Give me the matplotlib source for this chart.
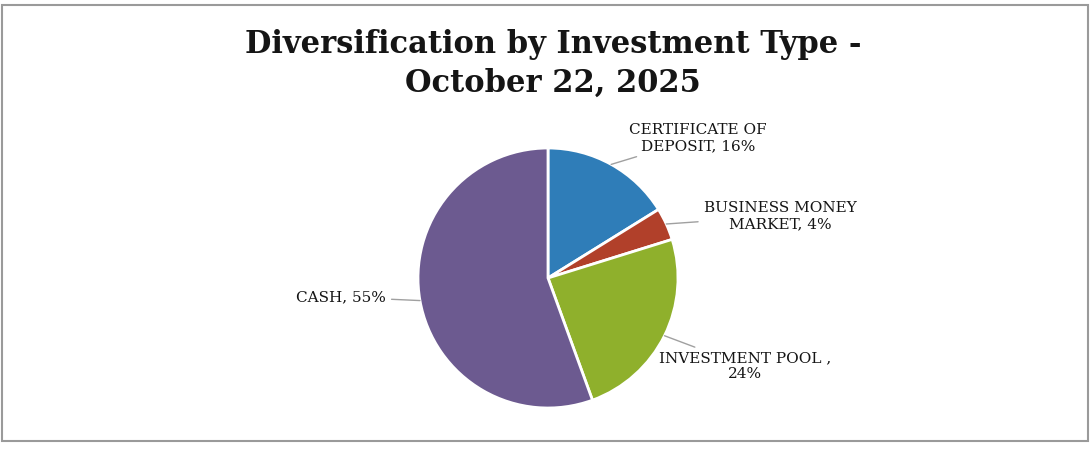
import numpy as np
import matplotlib.pyplot as plt
from matplotlib.patches import Rectangle

# ---- data ----
categories = ["CERTIFICATE OF\nDEPOSIT", "BUSINESS MONEY\nMARKET", "INVESTMENT POOL ,\n", "CASH"]
shares = [16, 4, 24, 55]
colors = ["#2f7db8", "#b1402a", "#8fb02c", "#6c5a90"]

title = "Diversification by Investment Type -\nOctober 22, 2025"

# label positions (pixel space, y measured from the top)
label_pos = [(698, 138), (780, 216), (745, 366), (386, 297)]
label_ha = ["center", "center", "center", "right"]

W, H = 1092, 453
fig = plt.figure(figsize=(W / 100, H / 100), dpi=100)
ax = fig.add_axes([0, 0, 1, 1])

# outer frame
fig.patches.append(Rectangle((2 / W, 12 / H), 1086 / W, 436 / H, transform=fig.transFigure,
                             fill=False, edgecolor="#9a9a9a", linewidth=1.5))

cx, cy, r = 548, H - 278, 130
wedges, _ = ax.pie(shares, colors=colors, startangle=90, counterclock=False,
                   center=(cx, cy), radius=r, frame=True,
                   wedgeprops=dict(edgecolor="white", linewidth=2))
ax.set_xlim(0, W)
ax.set_ylim(0, H)
ax.set_aspect("equal")
ax.axis("off")

for w, cat, val, (lx, ly), ha in zip(wedges, categories, shares, label_pos, label_ha):
    mid = np.deg2rad((w.theta1 + w.theta2) / 2)
    px, py = cx + r * np.cos(mid), cy + r * np.sin(mid)
    if cat.endswith("\n"):
        txt = f"{cat}{val}%"
    else:
        txt = f"{cat}, {val}%"
    ax.annotate(txt, xy=(px, py), xytext=(lx, H - ly), ha=ha, va="center",
                fontsize=11, family="DejaVu Serif", color="#151515",
                multialignment="center", linespacing=1.2,
                arrowprops=dict(arrowstyle="-", color="#a0a0a0", lw=1,
                                shrinkA=2, shrinkB=0))

ax.text(W / 2 + 7, H - 64, title, ha="center", va="center", fontsize=22,
        family="DejaVu Serif", fontweight="bold", color="#151515", linespacing=1.3)

fig.savefig("out.png", dpi=100, facecolor="white")
